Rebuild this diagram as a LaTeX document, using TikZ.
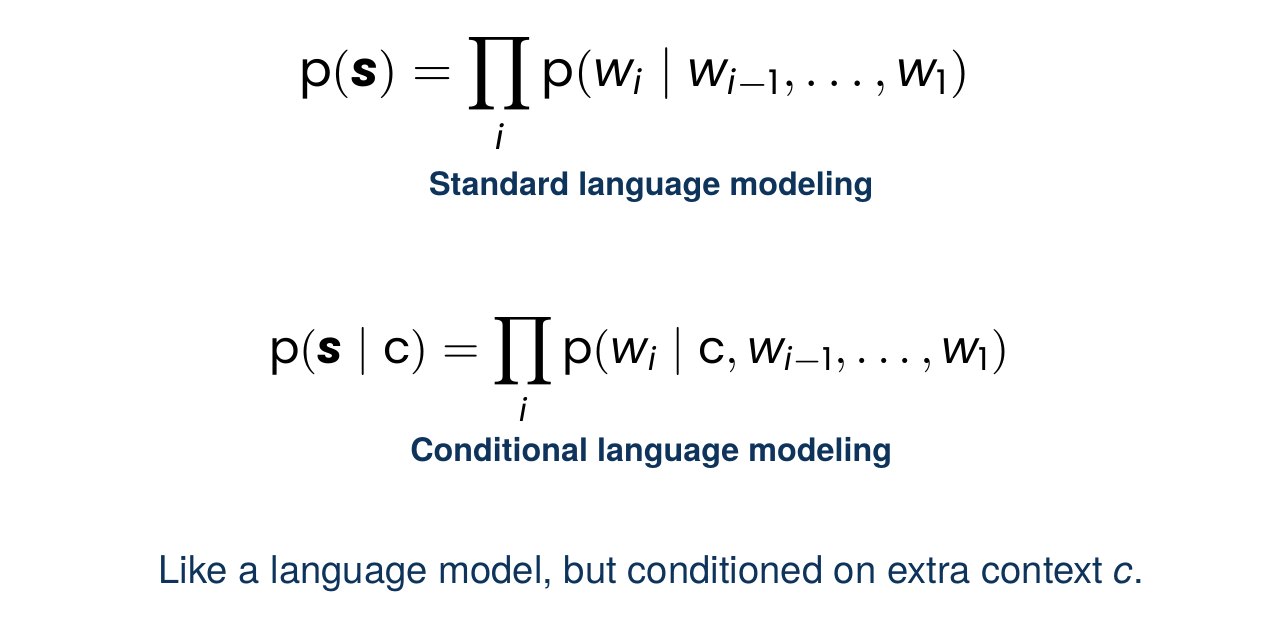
\documentclass[tikz,border=0pt]{standalone}
\usepackage{amsmath}
\usepackage{fontspec}
\newfontfamily\helv{TeX Gyre Heros}
\newfontfamily\msans[Scale=0.94]{Poppins}
\definecolor{navy}{RGB}{15,52,92}
\newcommand{\sv}[1]{\text{\msans\itshape #1}}
\newcommand{\svb}[1]{\text{\msans\bfseries\itshape #1}}
\newcommand{\su}[1]{\text{\msans #1}}
\newcommand{\lp}{\mathopen{\text{\fontsize{9.4}{10}\selectfont(}}}
\newcommand{\rp}{\mathclose{\text{\fontsize{9.4}{10}\selectfont)}}}
\begin{document}
\begin{tikzpicture}[
		formula/.style={anchor=base, inner sep=0pt, scale=1.84},
		caption/.style={anchor=base, inner sep=0pt, text=navy, font=\helv\bfseries\fontsize{11.5}{14}\selectfont},
		remark/.style={anchor=base, inner sep=0pt, text=navy, font=\helv\fontsize{13.6}{16}\selectfont}]
		\useasboundingbox (0, 0) rectangle (16, 7.8);

		\node[formula] (stdeq) at (7.93, 6.72) {$\displaystyle \su{p}\lp\svb{s}\rp = \prod_{\sv{i}} \su{p}\lp\sv{w}_{\sv{i}} \mid \sv{w}_{\sv{i}-\su{1}}, \ldots, \sv{w}_{\su{1}}\rp$};
		\node[caption] (stdlabel) at (8.14, 5.36) {Standard language modeling};

		\node[formula, scale=0.93] (condeq) at (7.99, 3.26) {$\displaystyle \su{p}\lp\svb{s} \mid \su{c}\rp = \prod_{\sv{i}} \su{p}\lp\sv{w}_{\sv{i}} \mid \su{c}, \sv{w}_{\sv{i}-\su{1}}, \ldots, \sv{w}_{\su{1}}\rp$};
		\node[caption] (condlabel) at (8.14, 2.025) {Conditional language modeling};

		\node[remark] (note) at (8.14, 0.51) {Like a language model, but conditioned on extra context \textit{c}.};
	\end{tikzpicture}
\end{document}
